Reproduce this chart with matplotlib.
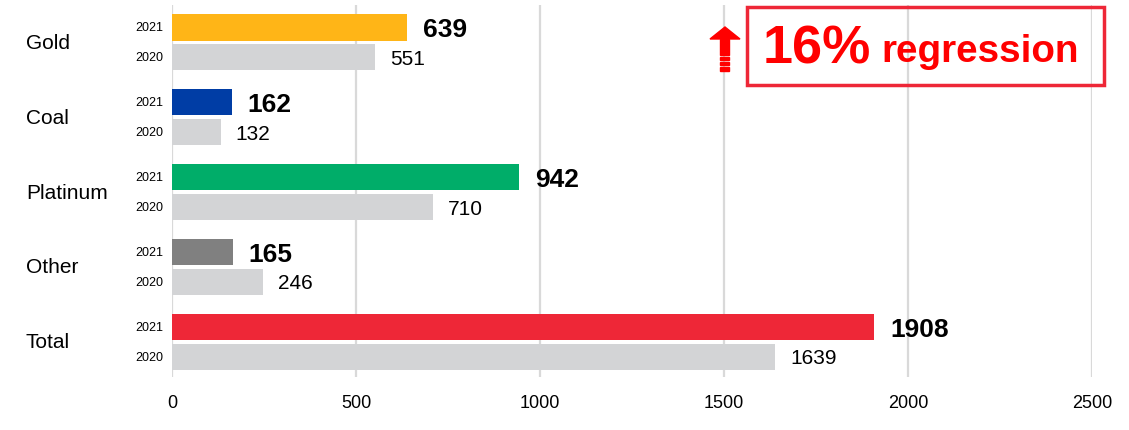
import matplotlib
matplotlib.use("Agg")
import matplotlib.pyplot as plt
from matplotlib.patches import Rectangle, Polygon
import numpy as np

plt.rcParams['font.family'] = ['Liberation Sans', 'DejaVu Sans']

categories = ["Gold", "Coal", "Platinum", "Other", "Total"]
values_2021 = [639, 162, 942, 165, 1908]
values_2020 = [551, 132, 710, 246, 1639]
colors_2021 = ["#FFB517", "#003DA5", "#00AD69", "#808080", "#EE2737"]
color_2020 = "#D3D4D6"
year_labels = ["2021", "2020"]
x_ticks = [0, 500, 1000, 1500, 2000, 2500]
callout_pct = "16%"
callout_word = "regression"

W, H = 1129, 430
fig = plt.figure(figsize=(W / 100, H / 100), dpi=100)
ax = fig.add_axes([172 / W, 1 - 377 / H, (1092 - 172) / W, (377 - 5) / H])

y = np.arange(len(categories))
off = 0.2
h = 0.35
ax.barh(y - off, values_2021, height=h, color=colors_2021, zorder=3)
ax.barh(y + off, values_2020, height=h, color=color_2020, zorder=3)

ax.set_xlim(0, 2500)
ax.set_ylim(4.47, -0.5)
ax.set_xticks(x_ticks)
ax.set_xticklabels([str(t) for t in x_ticks], fontsize=13)
ax.tick_params(axis='x', length=0, pad=13)
ax.set_yticks([])
for s in ax.spines.values():
    s.set_visible(False)
ax.grid(axis='x', color='#D9D9D9', linewidth=1.6, zorder=0)
ax.set_axisbelow(True)

for i, (v1, v0) in enumerate(zip(values_2021, values_2020)):
    ax.annotate(str(v1), (v1, i - off), xytext=(16, -3), textcoords='offset pixels',
                va='center', ha='left', fontsize=19, fontweight='bold', color='black')
    ax.annotate(str(v0), (v0, i + off), xytext=(15, -2), textcoords='offset pixels',
                va='center', ha='left', fontsize=15, color='black')
    ax.annotate(year_labels[0], (0, i - off), xytext=(-9, -1), textcoords='offset pixels',
                va='center', ha='right', fontsize=9, color='black')
    ax.annotate(year_labels[1], (0, i + off), xytext=(-9, -1), textcoords='offset pixels',
                va='center', ha='right', fontsize=9, color='black')
    ax.annotate(categories[i], (0, i), xycoords=('figure pixels', 'data'),
                xytext=(26, -1), textcoords='offset pixels',
                va='center', ha='left', fontsize=15, color='black')

# callout box
def fx(px):
    return px / W
def fy(py):
    return 1 - py / H

box = Rectangle((fx(747), fy(85)), fx(1104) - fx(747), fy(7) - fy(85),
                transform=fig.transFigure, fill=False, edgecolor='#EE2737', linewidth=2.5)
fig.patches.append(box)
fig.text(fx(763), fy(64), callout_pct, fontsize=39, fontweight='bold', color='#FF0000',
         ha='left', va='baseline')
fig.text(fx(881), fy(62), callout_word, fontsize=27.8, fontweight='bold', color='#FF0000',
         ha='left', va='baseline')

# up arrow
head = Polygon([(fx(710), fy(39)), (fx(725), fy(27)), (fx(740), fy(39))],
               closed=True, transform=fig.transFigure, color='#FF0000')
fig.patches.append(head)
fig.patches.append(Rectangle((fx(720), fy(55)), fx(729) - fx(720), fy(39) - fy(55),
                             transform=fig.transFigure, color='#FF0000'))
for top, bot in [(57, 60), (62, 65), (67, 71)]:
    fig.patches.append(Rectangle((fx(720), fy(bot)), fx(729) - fx(720), fy(top) - fy(bot),
                                 transform=fig.transFigure, color='#FF0000'))

fig.savefig("out.png", dpi=100)
